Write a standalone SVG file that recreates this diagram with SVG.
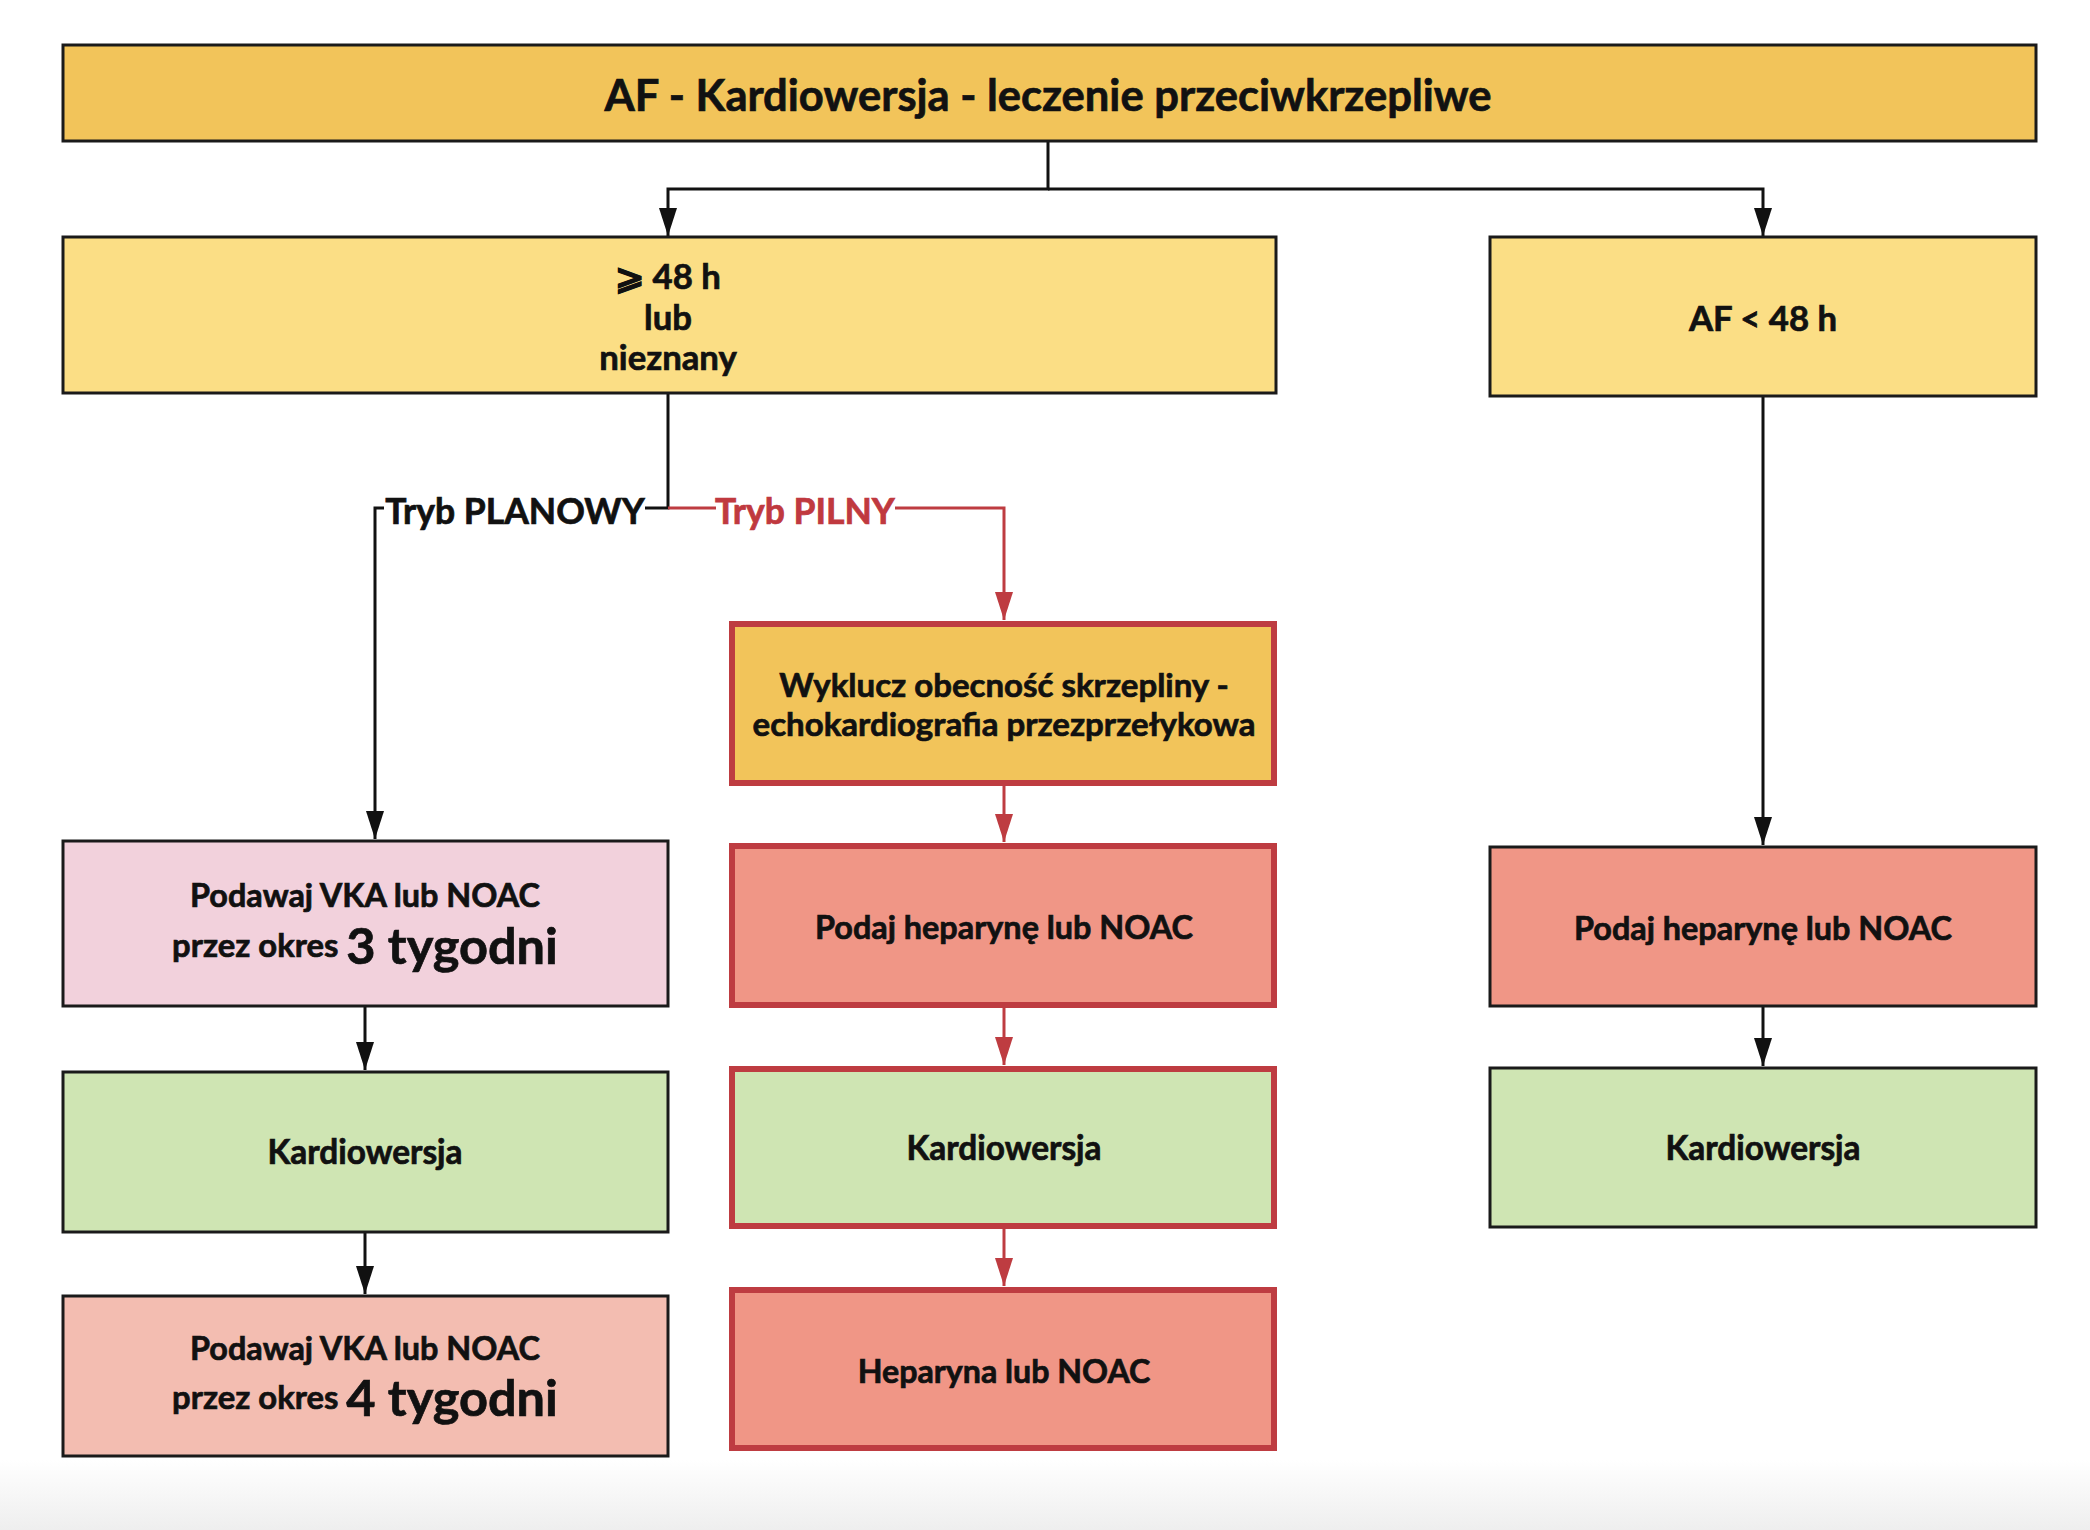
<svg xmlns="http://www.w3.org/2000/svg" width="2090" height="1530" viewBox="0 0 2090 1530">
<defs>
<style>
text{font-family:Lato,"Liberation Sans",sans-serif;font-weight:bold;fill:#111;stroke:#111;stroke-width:0.7;text-anchor:middle;dominant-baseline:central}
.red{fill:#C0393F;stroke:#C0393F}
.box{stroke:#1a1a1a;stroke-width:3}
.rbox{stroke:#BE3C41;stroke-width:6}
.ln{fill:none;stroke:#111;stroke-width:3}
.rln{fill:none;stroke:#BE3C41;stroke-width:3}
.t35{font-size:34.7px}
.t33{font-size:33px}
.t32{font-size:32.4px}
.k{font-size:33.4px}
</style>
<linearGradient id="bg" x1="0" y1="0" x2="0" y2="1"><stop offset="0" stop-color="#ffffff"/><stop offset="1" stop-color="#eeeeee"/></linearGradient>
<marker id="ab" markerUnits="userSpaceOnUse" markerWidth="28" markerHeight="18" refX="28" refY="9" orient="auto"><path d="M0,0 L28,9 L0,18 z" fill="#111"/></marker>
<marker id="ar" markerUnits="userSpaceOnUse" markerWidth="28" markerHeight="18" refX="28" refY="9" orient="auto"><path d="M0,0 L28,9 L0,18 z" fill="#BE3C41"/></marker>
</defs>
<rect width="2090" height="1530" fill="#fff"/>
<rect x="0" y="1460" width="2090" height="70" fill="url(#bg)"/>
<g id="connectors">
<path class="ln" d="M1048,141 V189 H668 V236" marker-end="url(#ab)"/>
<path class="ln" d="M1048,189 H1763 V236" marker-end="url(#ab)"/>
<path class="ln" d="M668,393 V508 H645"/>
<path class="ln" d="M384,508 H375 V839" marker-end="url(#ab)"/>
<path class="rln" d="M668,508 H716"/>
<path class="rln" d="M895,508 H1004 V620" marker-end="url(#ar)"/>
<path class="rln" d="M1004,784 V842" marker-end="url(#ar)"/>
<path class="rln" d="M1004,1006 V1065" marker-end="url(#ar)"/>
<path class="rln" d="M1004,1227 V1286" marker-end="url(#ar)"/>
<path class="ln" d="M365,1006 V1070" marker-end="url(#ab)"/>
<path class="ln" d="M365,1232 V1294" marker-end="url(#ab)"/>
<path class="ln" d="M1763,396 V845" marker-end="url(#ab)"/>
<path class="ln" d="M1763,1006 V1066" marker-end="url(#ab)"/>
<text x="515" y="510" style="font-size:35.5px">Tryb PLANOWY</text>
<text x="805" y="510" class="red" style="font-size:35.5px">Tryb PILNY</text>
</g>
<g id="title">
<rect class="box" x="63" y="45" width="1973" height="96" fill="#F2C45A"/>
<text x="1048" y="94" style="font-size:43.5px">AF - Kardiowersja - leczenie przeciwkrzepliwe</text>
</g>
<g id="n48plus">
<rect class="box" x="63" y="237" width="1213" height="156" fill="#FBDE85"/>
<text x="668" y="275" class="t35">⩾ 48 h</text>
<text x="668" y="316" class="t35">lub</text>
<text x="668" y="356" class="t35">nieznany</text>
</g>
<g id="n48minus">
<rect class="box" x="1490" y="237" width="546" height="159" fill="#FBDE85"/>
<text x="1763" y="317" class="t35">AF &lt; 48 h</text>
</g>
<g id="wyklucz">
<rect class="rbox" x="732" y="624" width="542" height="159" fill="#F2C45A"/>
<text x="1004" y="684" class="t33">Wyklucz obecność skrzepliny -</text>
<text x="1004" y="723" class="t33">echokardiografia przezprzełykowa</text>
</g>
<g id="podajM">
<rect class="rbox" x="732" y="846" width="542" height="159" fill="#F09686"/>
<text x="1004" y="926" class="t32">Podaj heparynę lub NOAC</text>
</g>
<g id="kardioM">
<rect class="rbox" x="732" y="1069" width="542" height="157" fill="#CFE5B3"/>
<text x="1004" y="1147" class="k">Kardiowersja</text>
</g>
<g id="heparynaM">
<rect class="rbox" x="732" y="1290" width="542" height="158" fill="#F09686"/>
<text x="1004" y="1370" style="font-size:32.2px">Heparyna lub NOAC</text>
</g>
<g id="vka3">
<rect class="box" x="63" y="841" width="605" height="165" fill="#F2D1DC"/>
<text x="365" y="894" class="t32">Podawaj VKA lub NOAC</text>
<text x="365" y="944"><tspan style="font-size:32.8px">przez okres </tspan><tspan style="font-size:50.5px">3 tygodni</tspan></text>
</g>
<g id="kardioL">
<rect class="box" x="63" y="1072" width="605" height="160" fill="#CFE5B3"/>
<text x="365" y="1151" class="k">Kardiowersja</text>
</g>
<g id="vka4">
<rect class="box" x="63" y="1296" width="605" height="160" fill="#F3BDB1"/>
<text x="365" y="1347" class="t32">Podawaj VKA lub NOAC</text>
<text x="365" y="1396"><tspan style="font-size:32.8px">przez okres </tspan><tspan style="font-size:50.5px">4 tygodni</tspan></text>
</g>
<g id="podajR">
<rect class="box" x="1490" y="847" width="546" height="159" fill="#F09686"/>
<text x="1763" y="927" class="t32">Podaj heparynę lub NOAC</text>
</g>
<g id="kardioR">
<rect class="box" x="1490" y="1068" width="546" height="159" fill="#CFE5B3"/>
<text x="1763" y="1147" class="k">Kardiowersja</text>
</g>
</svg>
